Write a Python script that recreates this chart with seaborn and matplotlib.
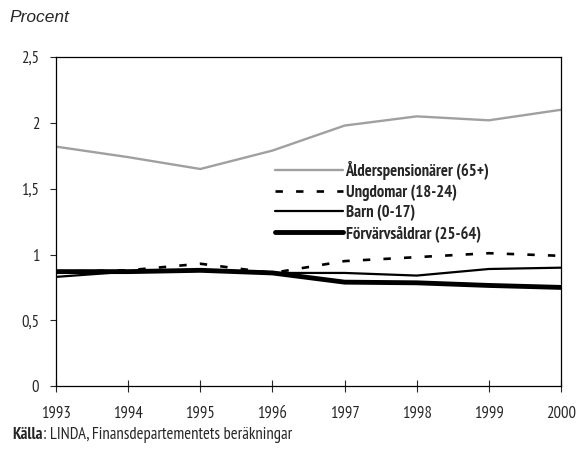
import matplotlib
matplotlib.use("Agg")
import matplotlib.pyplot as plt
import matplotlib.ticker as mticker
import pandas as pd
import seaborn as sns

years = [1993, 1994, 1995, 1996, 1997, 1998, 1999, 2000]
alderspensionarer = [1.82, 1.74, 1.65, 1.79, 1.98, 2.05, 2.02, 2.10]
ungdomar = [0.87, 0.88, 0.93, 0.86, 0.95, 0.98, 1.01, 0.99]
barn = [0.83, 0.87, 0.88, 0.86, 0.86, 0.84, 0.89, 0.90]
forvarvsaldrar = [0.87, 0.87, 0.88, 0.86, 0.79, 0.785, 0.765, 0.75]

series = [
    ("Ålderspensionärer (65+)", alderspensionarer, "#a0a0a0", "-", 1.7),
    ("Ungdomar (18-24)", ungdomar, "black", (0, (2.8, 5.0)), 1.9),
    ("Barn (0-17)", barn, "black", "-", 1.6),
    ("Förvärvsåldrar (25-64)", forvarvsaldrar, "black", "-", 3.5),
]

sns.set_style("white")
plt.rcParams["font.family"] = ["PT Sans Narrow", "DejaVu Sans"]

fig = plt.figure(figsize=(5.8, 4.5), dpi=100)
ax = fig.add_axes([0.0966, 0.142, 0.8706, 0.731])

for label, values, color, ls, lw in series:
    df = pd.DataFrame({"year": years, "value": values})
    sns.lineplot(data=df, x="year", y="value", ax=ax, color=color,
                 linestyle=ls, linewidth=lw, label=label)

ax.set_xlim(1993, 2000)
ax.set_ylim(0, 2.5)
ax.set_xticks(years)
ax.set_yticks([0, 0.5, 1, 1.5, 2, 2.5])
ax.yaxis.set_major_formatter(mticker.FuncFormatter(
    lambda v, p: f"{v:g}".replace(".", ",")))
ax.set_xlabel("")
ax.set_ylabel("")
ax.tick_params(axis="x", direction="inout", length=8, width=0.8,
               labelsize=12, pad=10, bottom=True)
ax.tick_params(axis="y", direction="out", length=4, width=0.8,
               labelsize=12, pad=8, left=True)
for s in ax.spines.values():
    s.set_color("black")
    s.set_linewidth(0.9)

leg = ax.legend(loc="upper left", bbox_to_anchor=(0.42, 0.705), frameon=False,
                handlelength=4.1, handletextpad=0.15, labelspacing=0.25,
                borderaxespad=0, prop={"weight": "bold", "size": 12})

fig.text(0.017, 0.96, "Procent", fontsize=12.5, style="italic",
         family=["Liberation Sans", "DejaVu Sans"], va="center")

# source line: bold "Källa" followed by normal text
src1 = fig.text(0.021, 0.033, "Källa", fontsize=12, fontweight="bold",
                va="center")
fig.canvas.draw()
bb = src1.get_window_extent().transformed(fig.transFigure.inverted())
fig.text(bb.x1, 0.033, ": LINDA, Finansdepartementets beräkningar",
         fontsize=12, va="center")

fig.savefig("out.png", dpi=100)
